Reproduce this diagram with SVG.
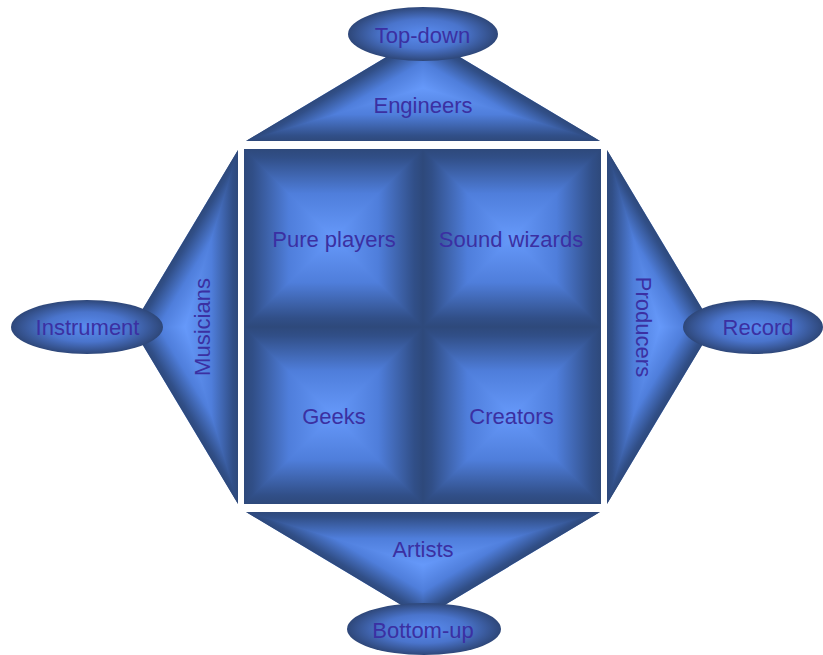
<svg xmlns="http://www.w3.org/2000/svg" width="823" height="655" viewBox="0 0 823 655">
  <defs>
    <style>
      .lbl { font-family: "Liberation Sans", Arial, sans-serif; font-size: 22px; fill: #3b30a2; text-anchor: middle; }
    </style>
    <!-- Tent gradients for the pyramid-shaded quadrants (edge dark, centre light) -->
    <linearGradient id="tentV" x1="0" y1="0" x2="0" y2="0.5" spreadMethod="reflect">
      <stop offset="0" stop-color="#2e497b"/>
      <stop offset="0.1" stop-color="#314f88"/>
      <stop offset="0.5" stop-color="#4f7edb"/>
      <stop offset="1" stop-color="#6699fa"/>
    </linearGradient>
    <linearGradient id="tentH" href="#tentV" x1="0" y1="0" x2="0.5" y2="0"/>

    <!-- Shared ramp for the side triangles -->
    <linearGradient id="ramp">
      <stop offset="0" stop-color="#2e497b"/>
      <stop offset="0.1" stop-color="#314f88"/>
      <stop offset="0.5" stop-color="#4f7edb"/>
      <stop offset="1" stop-color="#6699fa"/>
    </linearGradient>
    <!-- top triangle -->
    <linearGradient id="tB" href="#ramp" gradientUnits="userSpaceOnUse" x1="423" y1="141" x2="423" y2="88" spreadMethod="reflect"/>
    <linearGradient id="tL" href="#ramp" gradientUnits="userSpaceOnUse" x1="399.6" y1="49" x2="423" y2="88"/>
    <linearGradient id="tR" href="#ramp" gradientUnits="userSpaceOnUse" x1="446.4" y1="49" x2="423" y2="88"/>
    <!-- left triangle -->
    <linearGradient id="lB" href="#ramp" gradientUnits="userSpaceOnUse" x1="238" y1="327" x2="185" y2="327" spreadMethod="reflect"/>
    <linearGradient id="lT" href="#ramp" gradientUnits="userSpaceOnUse" x1="146" y1="303.6" x2="185" y2="327"/>
    <linearGradient id="lD" href="#ramp" gradientUnits="userSpaceOnUse" x1="146" y1="350.4" x2="185" y2="327"/>
    <!-- right triangle -->
    <linearGradient id="rB" href="#ramp" gradientUnits="userSpaceOnUse" x1="607" y1="327" x2="660" y2="327" spreadMethod="reflect"/>
    <linearGradient id="rT" href="#ramp" gradientUnits="userSpaceOnUse" x1="699" y1="303.6" x2="660" y2="327"/>
    <linearGradient id="rD" href="#ramp" gradientUnits="userSpaceOnUse" x1="699" y1="350.4" x2="660" y2="327"/>
    <!-- bottom triangle -->
    <linearGradient id="bB" href="#ramp" gradientUnits="userSpaceOnUse" x1="423" y1="512" x2="423" y2="565" spreadMethod="reflect"/>
    <linearGradient id="bL" href="#ramp" gradientUnits="userSpaceOnUse" x1="399.6" y1="604" x2="423" y2="565"/>
    <linearGradient id="bR" href="#ramp" gradientUnits="userSpaceOnUse" x1="446.4" y1="604" x2="423" y2="565"/>

    <!-- Ellipse shading -->
    <radialGradient id="oval" cx="0.5" cy="0.5" r="0.5">
      <stop offset="0" stop-color="#5a8cf0"/>
      <stop offset="0.55" stop-color="#4a74cc"/>
      <stop offset="1" stop-color="#2e4779"/>
    </radialGradient>
  </defs>

  <rect width="823" height="655" fill="#ffffff"/>

  <!-- Side triangles -->
  <g id="engineers">
    <polygon points="246,141 600,141 423,35" fill="url(#tB)"/>
    <polygon points="423,35 246,141 423,88" fill="url(#tL)"/>
    <polygon points="423,35 600,141 423,88" fill="url(#tR)"/>
    <text class="lbl" x="423" y="113">Engineers</text>
  </g>
  <g id="musicians">
    <polygon points="238,150 238,504 132,327" fill="url(#lB)"/>
    <polygon points="132,327 238,150 185,327" fill="url(#lT)"/>
    <polygon points="132,327 238,504 185,327" fill="url(#lD)"/>
    <text class="lbl" transform="translate(210,327) rotate(-90)" x="0" y="0">Musicians</text>
  </g>
  <g id="producers">
    <polygon points="607,150 607,504 713,327" fill="url(#rB)"/>
    <polygon points="713,327 607,150 660,327" fill="url(#rT)"/>
    <polygon points="713,327 607,504 660,327" fill="url(#rD)"/>
    <text class="lbl" transform="translate(636,327) rotate(90)" x="0" y="0">Producers</text>
  </g>
  <g id="artists">
    <polygon points="246,512 600,512 423,618" fill="url(#bB)"/>
    <polygon points="423,618 246,512 423,565" fill="url(#bL)"/>
    <polygon points="423,618 600,512 423,565" fill="url(#bR)"/>
    <text class="lbl" x="423" y="557">Artists</text>
  </g>

  <!-- Central square: four pyramid-shaded quadrants -->
  <g id="pure-players">
    <rect x="244" y="149" width="179" height="178" fill="url(#tentV)"/>
    <path d="M244,149 L333.5,238 L244,327 Z M423,149 L333.5,238 L423,327 Z" fill="url(#tentH)"/>
    <text class="lbl" x="334" y="247">Pure players</text>
  </g>
  <g id="sound-wizards">
    <rect x="423" y="149" width="178" height="178" fill="url(#tentV)"/>
    <path d="M423,149 L512,238 L423,327 Z M601,149 L512,238 L601,327 Z" fill="url(#tentH)"/>
    <text class="lbl" x="511" y="247">Sound wizards</text>
  </g>
  <g id="geeks">
    <rect x="244" y="327" width="179" height="177" fill="url(#tentV)"/>
    <path d="M244,327 L333.5,415.5 L244,504 Z M423,327 L333.5,415.5 L423,504 Z" fill="url(#tentH)"/>
    <text class="lbl" x="334" y="424">Geeks</text>
  </g>
  <g id="creators">
    <rect x="423" y="327" width="178" height="177" fill="url(#tentV)"/>
    <path d="M423,327 L512,415.5 L423,504 Z M601,327 L512,415.5 L601,504 Z" fill="url(#tentH)"/>
    <text class="lbl" x="511.5" y="424">Creators</text>
  </g>

  <!-- Outer ovals -->
  <g id="top-down">
    <ellipse cx="423" cy="34" rx="75" ry="27" fill="url(#oval)"/>
    <text class="lbl" x="422.5" y="43">Top-down</text>
  </g>
  <g id="instrument">
    <ellipse cx="87" cy="327" rx="76" ry="27" fill="url(#oval)"/>
    <text class="lbl" x="87.5" y="335">Instrument</text>
  </g>
  <g id="record">
    <ellipse cx="753" cy="327" rx="70" ry="27" fill="url(#oval)"/>
    <text class="lbl" x="758" y="335">Record</text>
  </g>
  <g id="bottom-up">
    <ellipse cx="424" cy="629" rx="77" ry="26" fill="url(#oval)"/>
    <text class="lbl" x="423" y="638">Bottom-up</text>
  </g>

  <!-- Connectors: none drawn; shapes abut directly -->
  <g id="connectors"/>
</svg>
